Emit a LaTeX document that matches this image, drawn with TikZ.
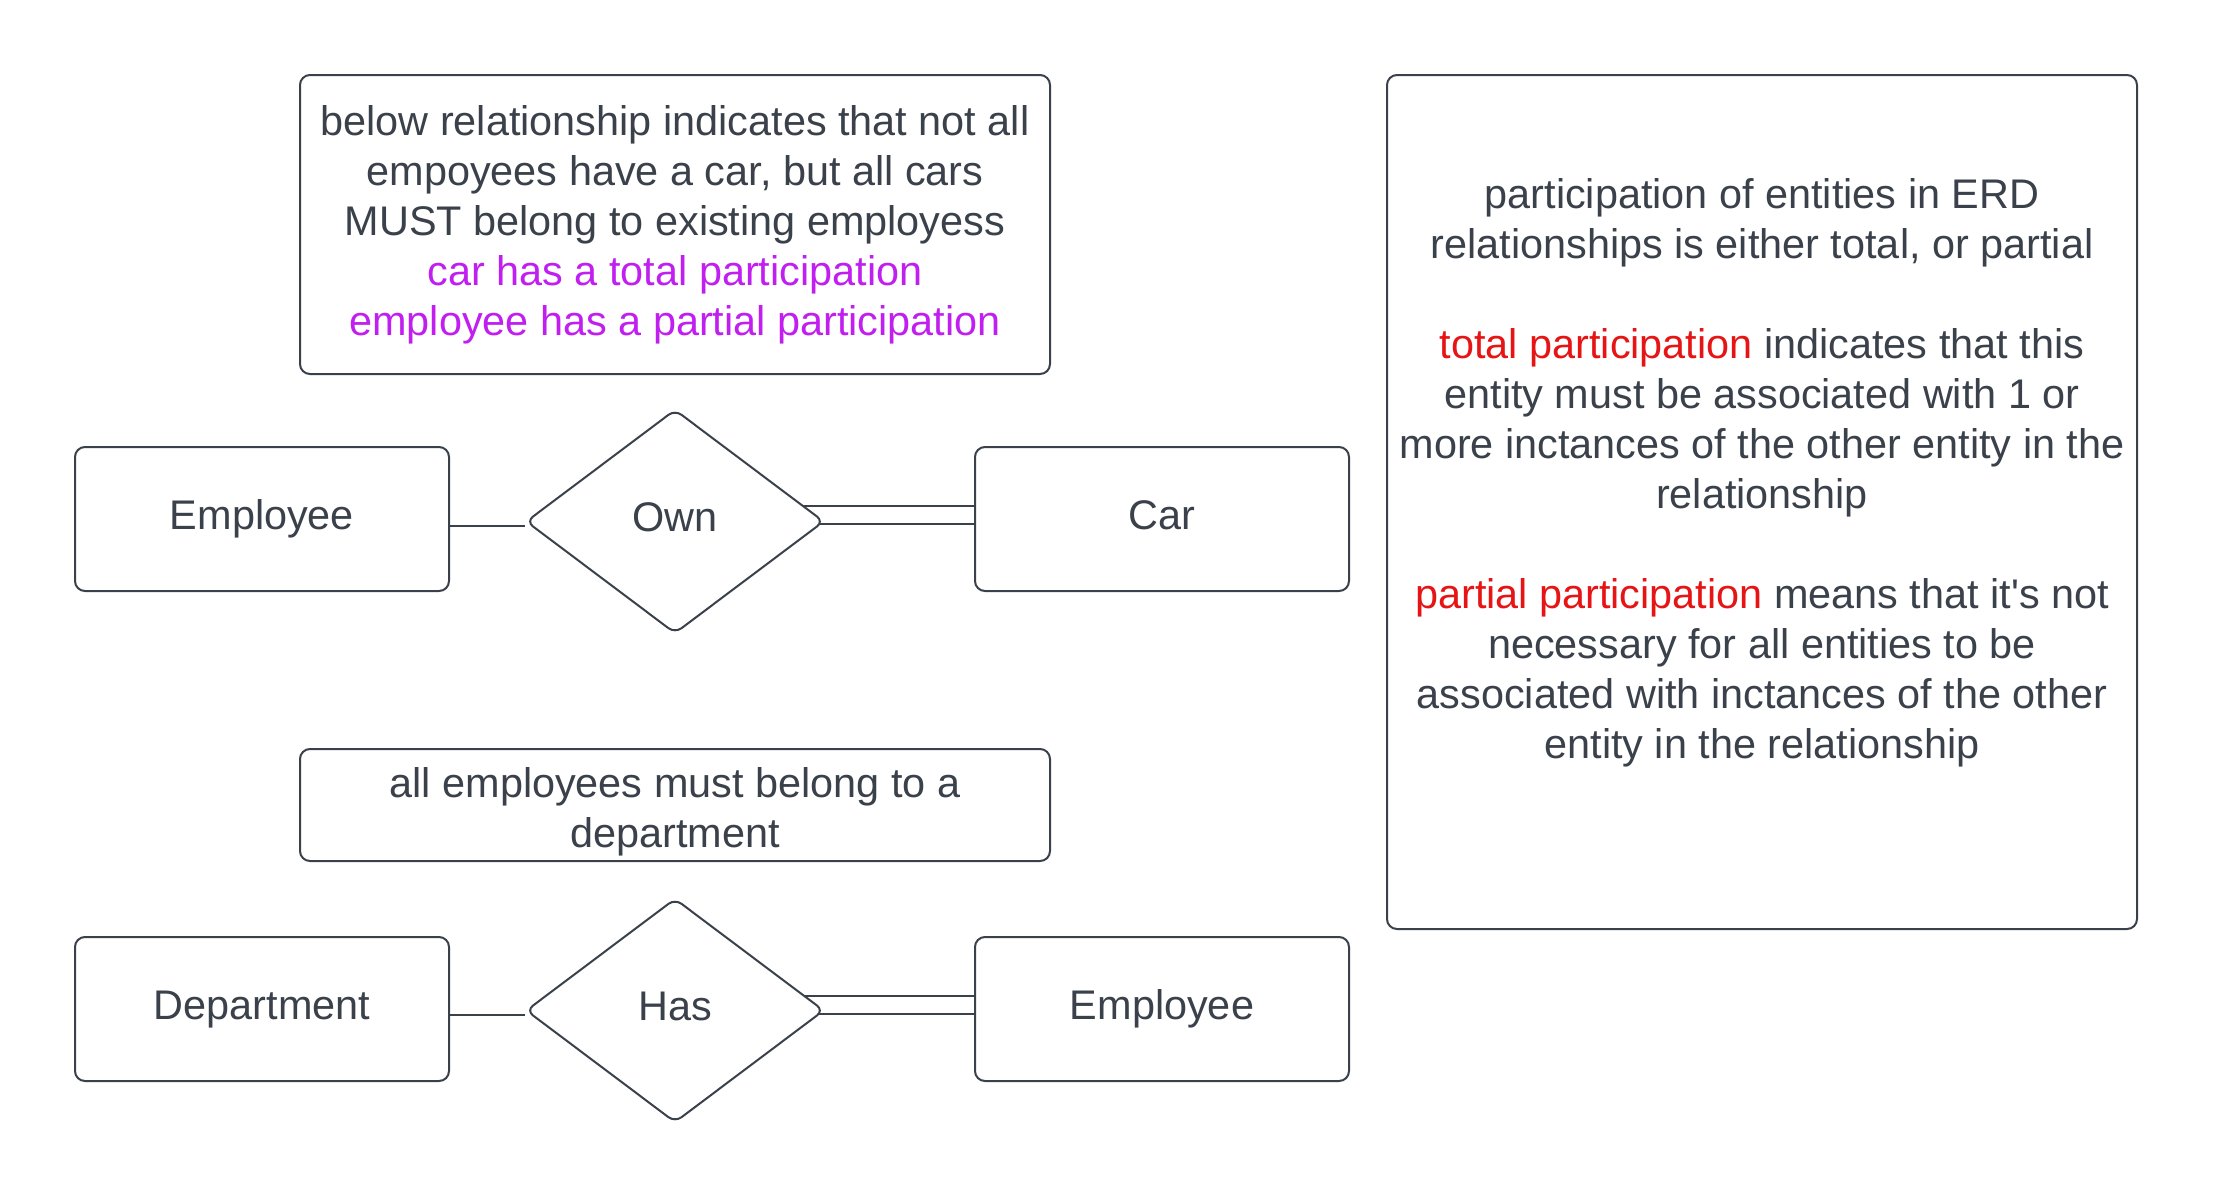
\documentclass[tikz,border=0pt]{standalone}
\usepackage{fontspec}
\setmainfont{Liberation Sans}
\usetikzlibrary{shapes.geometric,calc}
\definecolor{ink}{HTML}{3A414A}
\definecolor{purp}{HTML}{C11FF0}
\definecolor{redt}{HTML}{E61414}
\pgfdeclarelayer{background}
\pgfsetlayers{background,main}
\begin{document}
\begin{tikzpicture}[x=0.5pt,y=-0.5pt,
  every node/.style={font=\fontsize{20.7pt}{25pt}\selectfont, text=ink},
  box/.style={draw=ink, line width=1pt, rounded corners=5pt, fill=white, inner sep=0pt, align=center},
  entity/.style={box, minimum width=187pt, minimum height=72pt, text height=15pt, text depth=5pt},
  rel/.style={draw=ink, line width=1pt, shape=diamond, rounded corners=4pt, fill=white, inner sep=0pt,
    minimum width=149pt, minimum height=112pt, text height=15pt, text depth=5pt},
  conn/.style={draw=ink, line width=1pt},
  dbl/.style={draw=ink, line width=1pt, double=white, double distance=8pt}]
\useasboundingbox (0,0) rectangle (2213,1200);

\node[box, minimum width=375pt, minimum height=149.5pt] (note1) at (675,224.5)
  {below relationship indicates that not all\\
   empoyees have a car, but all cars\\
   MUST belong to existing employess\\
   \textcolor{purp}{car has a total participation}\\
   \textcolor{purp}{employee has a partial participation}};

\node[box, minimum width=375pt, minimum height=56pt] (note2) at (675,805) {};
\node[align=center] (note2text) at (675,812) {all employees must belong to a\\department};

\node[box, minimum width=375pt, minimum height=427pt] (defbox) at (1762,502) {};
\node[align=center] (deftext) at (1762,473)
  {participation of entities in ERD\\
   relationships is either total, or partial\\[25pt]
   \textcolor{redt}{total participation} indicates that this\\
   entity must be associated with 1 or\\
   more inctances of the other entity in the\\
   relationship\\[25pt]
   \textcolor{redt}{partial participation} means that it\textquotesingle s not\\
   necessary for all entities to be\\
   associated with inctances of the other\\
   entity in the relationship};

\node[entity] (emp) at (262,519) {Employee};
\node[rel] (own) at (675,521.5) {Own};
\node[entity] (car) at (1162,519) {Car};

\node[entity] (dept) at (262,1009) {Department};
\node[rel] (has) at (675,1010.5) {Has};
\node[entity] (emp2) at (1162,1009) {Employee};

\begin{pgfonlayer}{background}
\fill[white] (0,0) rectangle (2213,1200);
\draw[conn] ($(emp.east |- own.west)+(0,4)$) -- ($(own.west)+(0,4)$);
\draw[dbl] ($(own.center |- car.west)+(0,-4)$) -- ($(car.west)+(0,-4)$);
\draw[conn] ($(dept.east |- has.west)+(0,4)$) -- ($(has.west)+(0,4)$);
\draw[dbl] ($(has.center |- emp2.west)+(0,-4)$) -- ($(emp2.west)+(0,-4)$);
\end{pgfonlayer}
\end{tikzpicture}
\end{document}
